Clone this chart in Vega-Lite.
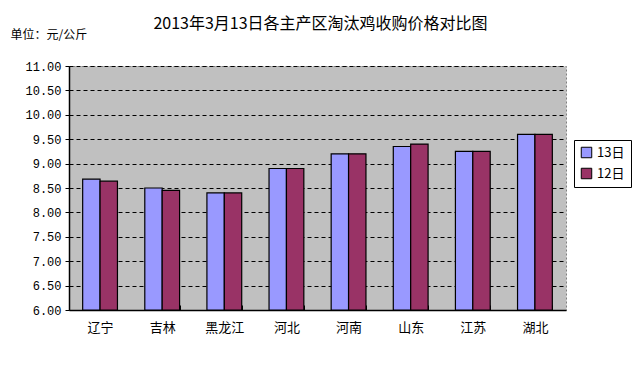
{
  "$schema": "https://vega.github.io/schema/vega-lite/v6.json",
  "width": 497,
  "height": 244,
  "autosize": "none",
  "padding": {"left": 69, "top": 66, "right": 70, "bottom": 57},
  "background": "white",
  "title": {
    "text": "2013年3月13日各主产区淘汰鸡收购价格对比图",
    "font": "Noto Sans CJK SC",
    "fontSize": 16,
    "fontWeight": "normal",
    "color": "black",
    "anchor": "middle",
    "frame": "group",
    "offset": -4,
    "dx": 3
  },
  "config": {
    "view": {"fill": "#c0c0c0", "stroke": "#808080", "strokeDash": [2, 2], "strokeWidth": 1},
    "font": "Noto Sans CJK SC"
  },
  "data": {
    "values": [
      {"地区": "辽宁", "日期": "13日", "价格": 8.68},
      {"地区": "辽宁", "日期": "12日", "价格": 8.64},
      {"地区": "吉林", "日期": "13日", "价格": 8.50},
      {"地区": "吉林", "日期": "12日", "价格": 8.45},
      {"地区": "黑龙江", "日期": "13日", "价格": 8.40},
      {"地区": "黑龙江", "日期": "12日", "价格": 8.40},
      {"地区": "河北", "日期": "13日", "价格": 8.90},
      {"地区": "河北", "日期": "12日", "价格": 8.90},
      {"地区": "河南", "日期": "13日", "价格": 9.20},
      {"地区": "河南", "日期": "12日", "价格": 9.20},
      {"地区": "山东", "日期": "13日", "价格": 9.35},
      {"地区": "山东", "日期": "12日", "价格": 9.40},
      {"地区": "江苏", "日期": "13日", "价格": 9.25},
      {"地区": "江苏", "日期": "12日", "价格": 9.25},
      {"地区": "湖北", "日期": "13日", "价格": 9.60},
      {"地区": "湖北", "日期": "12日", "价格": 9.60}
    ]
  },
  "mark": {"type": "bar", "stroke": "black", "strokeWidth": 1.2},
  "encoding": {
    "x": {
      "field": "地区",
      "type": "nominal",
      "sort": ["辽宁", "吉林", "黑龙江", "河北", "河南", "山东", "江苏", "湖北"],
      "scale": {"paddingInner": 0.44, "paddingOuter": 0.22},
      "axis": {
        "title": null,
        "labelAngle": 0,
        "labelFont": "Noto Sans CJK SC",
        "labelFontSize": 13,
        "labelColor": "black",
        "labelPadding": 16,
        "domainColor": "black",
        "domainWidth": 1.5,
        "tickBand": "extent",
        "tickColor": "black",
        "tickWidth": 1,
        "tickSize": -5,
        "grid": false
      }
    },
    "xOffset": {"field": "日期", "type": "nominal", "sort": ["13日", "12日"]},
    "y": {
      "field": "价格",
      "type": "quantitative",
      "scale": {"domain": [6, 11], "zero": false, "nice": false},
      "axis": {
        "values": [6, 6.5, 7, 7.5, 8, 8.5, 9, 9.5, 10, 10.5, 11],
        "format": ".2f",
        "labelFont": "Liberation Mono",
        "labelFontSize": 12,
        "labelColor": "black",
        "labelPadding": 4,
        "domainColor": "black",
        "domainWidth": 1.5,
        "tickColor": "black",
        "tickSize": 4,
        "grid": true,
        "gridColor": "black",
        "gridDash": [4, 3],
        "gridWidth": 1,
        "title": "单位：元/公斤",
        "titleAngle": 0,
        "titleAlign": "left",
        "titleBaseline": "middle",
        "titleX": -59,
        "titleY": -32,
        "titleFont": "Noto Sans CJK SC",
        "titleFontSize": 12,
        "titleFontWeight": "normal",
        "titleColor": "black"
      }
    },
    "y2": {"datum": 6},
    "color": {
      "field": "日期",
      "type": "nominal",
      "sort": ["13日", "12日"],
      "scale": {"domain": ["13日", "12日"], "range": ["#9999ff", "#993366"]},
      "legend": {
        "title": null,
        "orient": "none",
        "legendX": 505,
        "legendY": 74,
        "strokeColor": "black",
        "padding": 6,
        "symbolType": "square",
        "symbolSize": 110,
        "symbolStrokeColor": "black",
        "symbolStrokeWidth": 1,
        "labelFont": "Noto Sans CJK SC",
        "labelFontSize": 13,
        "labelColor": "black",
        "rowPadding": 6,
        "fillColor": "white"
      }
    }
  }
}
